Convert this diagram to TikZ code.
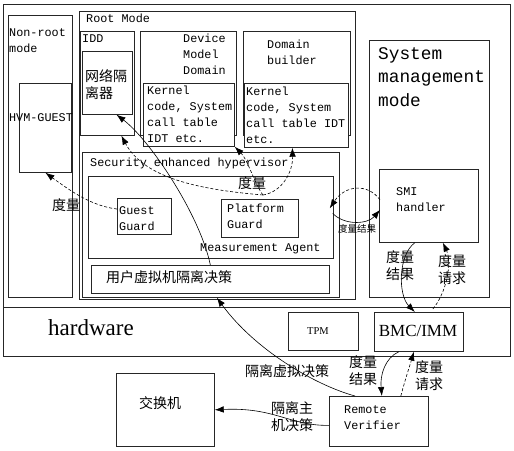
\documentclass[tikz,border=0pt]{standalone}
\usepackage{fontspec}
\setmainfont{Liberation Serif}
\setmonofont{Liberation Mono}
\newfontfamily\cjk{Noto Sans CJK SC}
\usetikzlibrary{arrows.meta,calc}

\begin{document}
\begin{tikzpicture}[x=1pt,y=1pt,yscale=-1,
  box/.style={draw=black!85,line width=0.7pt,anchor=north west,inner sep=0pt},
  mono/.style={font=\ttfamily\fontsize{11.8}{16}\selectfont,inner sep=0pt,align=left},
  han/.style={font=\cjk\fontsize{14}{17}\selectfont,inner sep=0pt,align=left},
  arr/.style={line width=0.6pt,-{Latex[length=9pt,width=6.5pt]}},
  darr/.style={arr,dash pattern=on 3pt off 2pt}]
\useasboundingbox (0,0) rectangle (514,450);

% boxes
\node[box,minimum width=507,minimum height=352] (outer) at (3,4) {};
\draw[black!85,line width=0.7pt] (3,307) -- (510,307);
\node[box,minimum width=64,minimum height=282] (nonroot) at (8,15) {};
\node[box,minimum width=52,minimum height=89] (hvm) at (19,83) {};
\node[box,minimum width=276,minimum height=288] (root) at (79,11) {};
\node[box,minimum width=54,minimum height=104] (idd) at (80,31) {};
\node[box,minimum width=50,minimum height=63] (isol) at (82,51) {};
\node[box,minimum width=96,minimum height=104] (dmd) at (140,31) {};
\node[box,minimum width=91,minimum height=63,fill=white] (kern1) at (143,83) {};
\node[box,minimum width=107,minimum height=104] (dbld) at (243,31) {};
\node[box,minimum width=104,minimum height=64,fill=white] (kern2) at (244,83) {};
\node[box,minimum width=257,minimum height=145] (seh) at (82,152) {};
\node[box,minimum width=245,minimum height=82] (agent) at (88,176) {};
\node[box,minimum width=54,minimum height=36] (gguard) at (117,198) {};
\node[box,minimum width=77,minimum height=38] (pguard) at (221,199) {};
\node[box,minimum width=238,minimum height=28] (uvm) at (91,265) {};
\node[box,minimum width=120,minimum height=257] (smm) at (369,40) {};
\node[box,minimum width=99,minimum height=73] (smi) at (379,169) {};
\node[box,minimum width=70,minimum height=38] (tpm) at (288,312) {};
\node[box,minimum width=89,minimum height=39] (bmc) at (374,312) {};
\node[box,minimum width=98,minimum height=73] (switch) at (116,373) {};
\node[box,minimum width=99,minimum height=50] (rv) at (329,396) {};

% texts
\node[mono,anchor=west] (nonrootlbl) at (9,41) {Non-root\\mode};
\node[mono] (hvmlbl) at (41,118) {HVM-GUEST};
\node[mono,anchor=west] (rootlbl) at (86,18) {Root Mode};
\node[mono,anchor=west] (iddlbl) at (82,39) {IDD};
\node[han,anchor=west] (isollbl) at (85,85) {网络隔\\离器};
\node[mono,anchor=west] (dmdlbl) at (183,54) {Device\\Model\\Domain};
\node[mono,anchor=west] (kern1lbl) at (147,114) {Kernel\\code, System\\call table\\IDT etc.};
\node[mono,anchor=west] (dbldlbl) at (267,52) {Domain\\builder};
\node[mono,anchor=west] (kern2lbl) at (246,115) {Kernel\\code, System\\call table IDT\\etc.};
\node[mono,anchor=west] (sehlbl) at (90,163) {Security enhanced hypervisor};
\node[han] (measlbl) at (252,183) {度量};
\node[mono,anchor=west] (gguardlbl) at (119,219) {Guest\\Guard};
\node[mono,anchor=west] (pguardlbl) at (227,216) {Platform\\Guard};
\node[mono,anchor=west] (agentlbl) at (200,249) {Measurement Agent};
\node[han,anchor=west] (uvmlbl) at (106,277) {用户虚拟机隔离决策};
\node[anchor=west,font=\ttfamily\fontsize{17.8}{23.5}\selectfont,align=left,inner sep=0pt] (smmlbl) at (378,77) {System\\management\\mode};
\node[mono,anchor=west] (smilbl) at (396,200) {SMI\\handler};
\node[anchor=west,font=\fontsize{23}{26}\selectfont,inner sep=0] (hwlbl) at (48,328) {hardware};
\node[font=\fontsize{10.5}{12}\selectfont] (tpmlbl) at (318,331) {TPM};
\node[font=\fontsize{17}{20}\selectfont] (bmclbl) at (418,331) {BMC/IMM};
\node[han] (switchlbl) at (160,403) {交换机};
\node[mono,anchor=west] (rvlbl) at (344,418) {Remote\\Verifier};

% connector labels
\node[han] (meas1) at (66,205) {度量};
\node[han,font=\cjk\fontsize{9.5}{11}\selectfont] (res0) at (357,229) {度量结果};
\node[han] (res1) at (400,266) {度量\\结果};
\node[han] (req1) at (452,270) {度量\\请求};
\node[han] (res2) at (363,371) {度量\\结果};
\node[han] (req2) at (429,376) {度量\\请求};
\node[han] (vmdec) at (287,371) {隔离虚拟决策};
\node[han] (hostdec) at (292,417) {隔离主\\机决策};

% connectors
\coordinate (measpt) at (263,195);
\draw[darr] (gguard.165) .. controls (92,206) and (72,192) .. (hvm.south);
\draw[arr] (uvm.north) .. controls (200,215) and (150,140) .. (isol.-74);
\draw[darr] (measpt) .. controls (205,190) and (145,180) .. (idd.-75);
\draw[darr] (measpt) .. controls (282,192) and (293,172) .. ($(kern2.south)+(-4,0)$);
\draw[darr] (measpt) .. controls (255,185) and (248,160) .. (kern1.south east);
\draw[darr] ($(smi.west)+(1,-6)$) .. controls (368,183) and (345,185) .. ($(agent.east)+(-4,-9)$);
\draw[arr] ($(agent.east)+(-1,-4)$) .. controls (345,226) and (368,224) .. ($(smi.west)+(1,4)$);
\draw[arr] ($(smi.south)+(-14,0)$) .. controls (398,255) and (398,295) .. ($(bmc.north)+(-4,0)$);
\draw[darr] ($(bmc.north)+(14,-3)$) .. controls (447,292) and (452,262) .. ($(smi.south)+(14,0)$);
\draw[arr] ($(bmc.south)+(-20,0)$) .. controls (385,358) and (380,375) .. ($(rv.north)+(3,0)$);
\draw[darr] ($(rv.north)+(22,0)$) .. controls (405,380) and (410,365) .. ($(bmc.south)+(-5,0)$);
\draw[arr] ($(rv.north west)+(26,0)$) .. controls (315,385) and (255,350) .. ($(seh.south)+(6,0)$);
\draw[arr] ($(rv.west)+(0,4)$) .. controls (290,426) and (275,407) .. (switch.east);
\end{tikzpicture}
\end{document}
